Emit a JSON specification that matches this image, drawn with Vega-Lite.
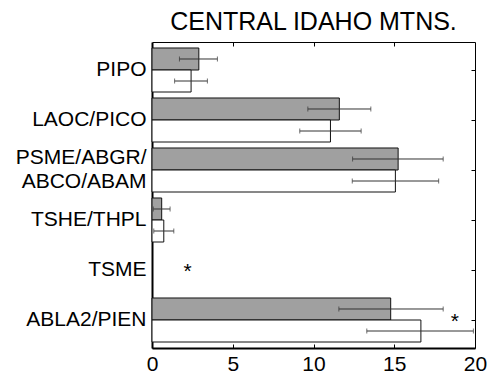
{
  "$schema": "https://vega.github.io/schema/vega-lite/v6.json",
  "width": 323,
  "height": 306,
  "autosize": {"type": "none"},
  "padding": {"left": 152, "top": 42, "right": 23, "bottom": 29},
  "config": {"view": {"stroke": null}, "font": "Liberation Sans", "axis": {"grid": false}},
  "title": {"text": "CENTRAL IDAHO MTNS.", "fontSize": 25, "fontWeight": "normal", "color": "black", "font": "Liberation Sans", "anchor": "middle", "baseline": "alphabetic", "offset": 10, "dy": 23},
  "datasets": {
    "bars": [
      {"type": "PIPO", "series": "A", "value": 2.9, "lo": 1.7, "hi": 4.05},
      {"type": "PIPO", "series": "B", "value": 2.42, "lo": 1.4, "hi": 3.43},
      {"type": "LAOC/PICO", "series": "A", "value": 11.6, "lo": 9.65, "hi": 13.55},
      {"type": "LAOC/PICO", "series": "B", "value": 11.05, "lo": 9.15, "hi": 12.95},
      {"type": "PSME/ABGR/ABCO/ABAM", "series": "A", "value": 15.24, "lo": 12.42, "hi": 18.03},
      {"type": "PSME/ABGR/ABCO/ABAM", "series": "B", "value": 15.07, "lo": 12.4, "hi": 17.75},
      {"type": "TSHE/THPL", "series": "A", "value": 0.6, "lo": 0.08, "hi": 1.12},
      {"type": "TSHE/THPL", "series": "B", "value": 0.73, "lo": 0.11, "hi": 1.35},
      {"type": "ABLA2/PIEN", "series": "A", "value": 14.78, "lo": 11.57, "hi": 18.03},
      {"type": "ABLA2/PIEN", "series": "B", "value": 16.65, "lo": 13.3, "hi": 19.9}
    ],
    "stars": [
      {"type": "TSME", "x": 2.2},
      {"type": "ABLA2/PIEN", "x": 18.75}
    ]
  },
  "layer": [
    {
      "data": {"name": "bars"},
      "mark": {"type": "bar", "stroke": "#111111", "strokeWidth": 1},
      "encoding": {
        "y": {
          "field": "type", "type": "nominal", "sort": null,
          "scale": {"domain": ["PIPO", "LAOC/PICO", "PSME/ABGR/ABCO/ABAM", "TSHE/THPL", "TSME", "ABLA2/PIEN"], "paddingInner": 0, "paddingOuter": 0.06},
          "axis": {
            "orient": "left", "title": null, "ticks": false, "domainColor": "black", "domainWidth": 2,
            "labelFontSize": 21, "labelColor": "black", "labelPadding": 6, "labelLimit": 0,
            "labelFont": "Liberation Sans", "labelLineHeight": 24,
            "labelOffset": {"condition": {"test": "datum.value == 'PSME/ABGR/ABCO/ABAM'", "value": -12}, "value": 0},
            "labelExpr": "datum.value == 'PSME/ABGR/ABCO/ABAM' ? ['PSME/ABGR/', 'ABCO/ABAM'] : datum.value"
          }
        },
        "yOffset": {"field": "series", "type": "nominal", "sort": null, "scale": {"domain": ["A", "B"], "paddingInner": 0, "paddingOuter": 0.136}},
        "x": {
          "field": "value", "type": "quantitative",
          "scale": {"domain": [0, 20], "nice": false, "zero": true},
          "axis": {
            "orient": "bottom", "title": null, "values": [0, 5, 10, 15, 20], "tickSize": -4, "tickColor": "black",
            "domainColor": "black", "domainWidth": 2, "labelFontSize": 21, "labelColor": "black",
            "labelPadding": 9, "labelFlush": false, "labelOverlap": false, "labelFont": "Liberation Sans"
          }
        },
        "fill": {"field": "series", "type": "nominal", "scale": {"domain": ["A", "B"], "range": ["#a0a0a0", "#ffffff"]}, "legend": null}
      }
    },
    {
      "data": {"name": "bars"},
      "mark": {"type": "rule", "color": "#333333", "strokeWidth": 1},
      "encoding": {
        "y": {"field": "type", "type": "nominal", "sort": null, "axis": null},
        "yOffset": {"field": "series", "type": "nominal", "sort": null},
        "x": {"field": "lo", "type": "quantitative", "axis": null},
        "x2": {"field": "hi"}
      }
    },
    {
      "data": {"name": "bars"},
      "mark": {"type": "tick", "orient": "vertical", "size": 5, "thickness": 1, "color": "#333333"},
      "encoding": {
        "y": {"field": "type", "type": "nominal", "sort": null, "axis": null},
        "yOffset": {"field": "series", "type": "nominal", "sort": null},
        "x": {"field": "lo", "type": "quantitative", "axis": null}
      }
    },
    {
      "data": {"name": "bars"},
      "mark": {"type": "tick", "orient": "vertical", "size": 5, "thickness": 1, "color": "#333333"},
      "encoding": {
        "y": {"field": "type", "type": "nominal", "sort": null,
          "axis": {"orient": "right", "title": null, "labels": false, "tickSize": -4, "tickColor": "black", "domainColor": "black", "domainWidth": 1}},
        "yOffset": {"field": "series", "type": "nominal", "sort": null},
        "x": {"field": "hi", "type": "quantitative",
          "axis": {"orient": "top", "title": null, "labels": false, "values": [5, 10, 15], "tickSize": -4, "tickColor": "black", "domainColor": "black", "domainWidth": 1}}
      }
    },
    {
      "data": {"name": "stars"},
      "mark": {"type": "text", "text": "*", "fontSize": 21, "color": "black", "baseline": "middle", "align": "center", "dy": 2, "font": "Liberation Sans"},
      "encoding": {
        "y": {"field": "type", "type": "nominal", "sort": null, "axis": null},
        "x": {"field": "x", "type": "quantitative", "axis": null}
      }
    }
  ]
}
